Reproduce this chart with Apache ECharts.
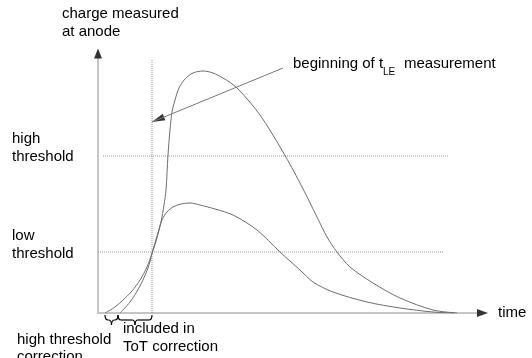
<!DOCTYPE html>
<html>
<head>
<meta charset="utf-8">
<script src="https://cdn.jsdelivr.net/npm/echarts@6/dist/echarts.min.js"></script>
<style>html,body{margin:0;padding:0;background:#fff}#c{width:532px;height:358px}</style>
</head>
<body>
<div id="c"></div>
<script>
// time (arbitrary units) vs charge (arbitrary units)
const bigPulse = [[22,0],[32,11],[42,27],[50,45],[54,59],[59,75],[63,91],[66,108],[68,123],[70,158],[72,183],[74,201],[77,213],[81,225],[87,234],[95,240],[105,242],[115,240],[125,235],[139,225],[162,198],[185,161],[202,130],[219,96],[229,76],[239,61],[252,46],[275,30],[302,15],[335,3],[359,0]];
const smallPulse = [[7,0],[17,6],[25,13],[34,22],[42,33],[49,46],[54,60],[59,77],[64,93],[69,101],[75,106],[83,109],[92,110],[102,108],[117,104],[135,98],[159,83],[182,61],[202,43],[215,31],[235,21],[269,11],[302,5],[335,1],[357,0]];
const highThreshold = [[5,157],[351,157]];
const lowThreshold = [[0,61],[345,61]];
const leMarker = [[54,0],[54,253]];
const annotationArrow = [[185,245],[54,191]];
const braceSpans = [[7,20],[20,54]];
const axisLabels = {y: ['charge measured', 'at anode'], x: 'time'};

const chart = echarts.init(document.getElementById('c'));
const FONT = '"Liberation Sans", Arial, sans-serif';
const curveStyle = {color: '#6e6e6e', width: 1};
const dotStyle = {color: '#9a9a9a', width: 1, type: 'dotted'};

function txt(t, x, y, size) {
  return {type: 'text', style: {text: t, x: x, y: y, fill: '#000', fontSize: size || 15, fontFamily: FONT, verticalAlign: 'middle'}};
}

chart.setOption({
  animation: false,
  grid: {left: 98, top: 58, right: 55, bottom: 45},
  xAxis: {type: 'value', min: 0, max: 379, splitLine: {show: false}, axisTick: {show: false}, axisLabel: {show: false},
    axisLine: {show: true, lineStyle: {color: '#c6c6c6', width: 2}}},
  yAxis: {type: 'value', min: 0, max: 255, splitLine: {show: false}, axisTick: {show: false}, axisLabel: {show: false},
    axisLine: {show: true, lineStyle: {color: '#c6c6c6', width: 2}}},
  series: [
    {type: 'line', data: highThreshold, symbol: 'none', lineStyle: dotStyle, silent: true},
    {type: 'line', data: lowThreshold, symbol: 'none', lineStyle: dotStyle, silent: true},
    {type: 'line', data: leMarker, symbol: 'none', lineStyle: dotStyle, silent: true},
    {type: 'line', data: smallPulse, symbol: 'none', smooth: 0.3, lineStyle: curveStyle, silent: true},
    {type: 'line', data: bigPulse, symbol: 'none', smooth: 0.3, lineStyle: curveStyle, silent: true},
    {type: 'line', data: annotationArrow, symbol: 'none', lineStyle: {color: '#777', width: 1}, silent: true},
    {type: 'scatter', clip: false, silent: true, itemStyle: {color: '#000'}, symbol: 'triangle',
      data: [
        {value: [0, 259.5], symbolSize: [8, 10], symbolRotate: 0},
        {value: [384.5, 0], symbolSize: [8, 11], symbolRotate: -90},
        {value: [60, 193.5], symbolSize: [7, 13], symbolRotate: 112}
      ]}
  ]
});

const g = [
  txt(axisLabels.y[0], 62, 14), txt(axisLabels.y[1], 62, 32),
  txt(axisLabels.x, 498, 313),
  txt('high', 12, 139), txt('threshold', 12, 157),
  txt('low', 12, 236), txt('threshold', 12, 254),
  txt('high threshold', 17, 340), txt('correction', 17, 357),
  txt('included in', 123, 329), txt('ToT correction', 123, 347),
  txt('beginning of t', 293, 64), txt('LE', 383, 72, 10), txt('measurement', 404, 64)
];
const yTop = chart.convertToPixel({gridIndex: 0}, [0, 0])[1];
const bs = {stroke: '#000', lineWidth: 1.2, fill: null};
braceSpans.forEach(function (s) {
  const x1 = chart.convertToPixel({gridIndex: 0}, [s[0], 0])[0];
  const x2 = chart.convertToPixel({gridIndex: 0}, [s[1], 0])[0];
  const xm = (x1 + x2) / 2, y0 = yTop + 2, y1 = y0 + 5, y2 = y0 + 10;
  g.push({type: 'bezierCurve', shape: {x1: x1, y1: y0, cpx1: x1, cpy1: y1, x2: x1 + 3, y2: y1}, style: bs});
  g.push({type: 'line', shape: {x1: x1 + 3, y1: y1, x2: xm - 3, y2: y1}, style: bs});
  g.push({type: 'bezierCurve', shape: {x1: xm - 3, y1: y1, cpx1: xm, cpy1: y1, x2: xm, y2: y2}, style: bs});
  g.push({type: 'bezierCurve', shape: {x1: xm, y1: y2, cpx1: xm, cpy1: y1, x2: xm + 3, y2: y1}, style: bs});
  g.push({type: 'line', shape: {x1: xm + 3, y1: y1, x2: x2 - 3, y2: y1}, style: bs});
  g.push({type: 'bezierCurve', shape: {x1: x2 - 3, y1: y1, cpx1: x2, cpy1: y1, x2: x2, y2: y0}, style: bs});
});
chart.setOption({graphic: g});
</script>
</body>
</html>
